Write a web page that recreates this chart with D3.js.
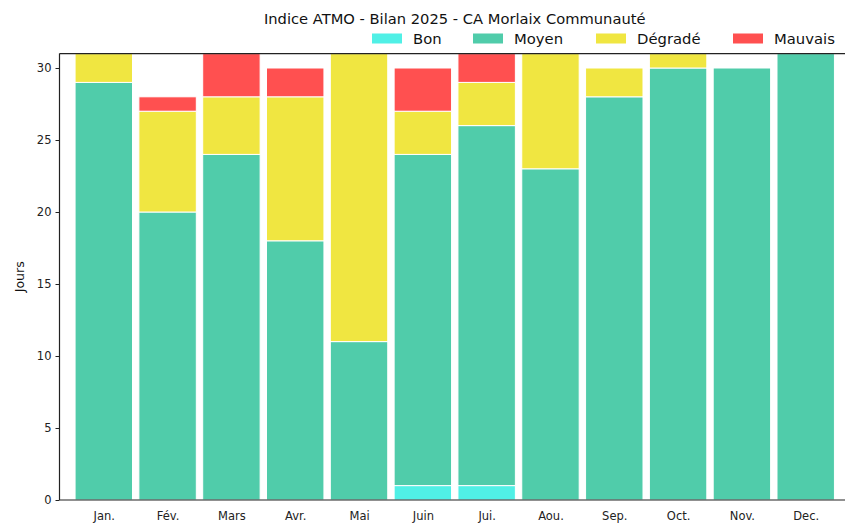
<!DOCTYPE html>
<html><head><meta charset="utf-8">
<script src="https://cdn.jsdelivr.net/npm/d3@7"></script>
<style>body{margin:0;background:#fff}svg{display:block}text{font-family:"DejaVu Sans",sans-serif}</style>
</head><body><svg id="c" width="845" height="523"></svg>
<script>
const months = ["Jan.","Fév.","Mars","Avr.","Mai","Juin","Jui.","Aou.","Sep.","Oct.","Nov.","Dec."];
const seriesNames = ["Bon","Moyen","Dégradé","Mauvais"];
const colors = ["#50F0E6","#50CCAA","#F0E641","#FF5050"];
const bon     = [0,0,0,0,0,1,1,0,0,0,0,0];
const moyen   = [29,20,24,18,11,23,25,23,28,30,30,31];
const degrade = [2,7,4,10,20,3,3,8,2,1,0,0];
const mauvais = [0,1,3,2,0,3,2,0,0,0,0,0];
const yTicks = [0,5,10,15,20,25,30];

const svg = d3.select("#c");
const L=59.5, R=850, T=53.6, B=500;
const x = d3.scaleLinear().domain([-0.694, 11.694]).range([L,R]);
const y = d3.scaleLinear().domain([0,31]).range([B,T]);

const rows = months.map((m,i)=>({i, Bon:bon[i], Moyen:moyen[i], "Dégradé":degrade[i], Mauvais:mauvais[i]}));
const stack = d3.stack().keys(seriesNames)(rows);
const w = 0.9;
stack.forEach((layer,k)=>{
  svg.append("g").selectAll("rect").data(layer.filter(d=>d[1]-d[0]>0)).join("rect")
    .attr("x", d=>x(d.data.i - w/2))
    .attr("width", d=>x(w)-x(0))
    .attr("y", d=>y(d[1]))
    .attr("height", d=>y(d[0])-y(d[1]))
    .attr("fill", colors[k])
    .attr("stroke","#fff").attr("stroke-width",1);
});

// axes
const xa = svg.append("g").attr("transform",`translate(0,${B})`)
  .call(d3.axisBottom(x).tickValues(d3.range(12)).tickFormat(i=>months[i]).tickSizeOuter(0).tickSize(0).tickPadding(12));
xa.select(".domain").remove();
xa.selectAll("text").attr("font-size",11.5).attr("fill","#222");
const ya = svg.append("g").attr("transform",`translate(${L},0)`)
  .call(d3.axisLeft(y).tickValues(yTicks).tickSizeOuter(0).tickSize(4).tickPadding(4));
ya.select(".domain").remove();
ya.selectAll("text").attr("font-size",11.5).attr("fill","#222");
ya.selectAll("line").attr("stroke","#222");

// spines
svg.append("line").attr("x1",L).attr("x2",L).attr("y1",T).attr("y2",B).attr("stroke","#222").attr("stroke-width",1.2);
svg.append("line").attr("x1",L).attr("x2",845).attr("y1",B).attr("y2",B).attr("stroke","#222").attr("stroke-width",1.2);
svg.append("line").attr("x1",L).attr("x2",845).attr("y1",T).attr("y2",T).attr("stroke","#222").attr("stroke-width",1.2);

// title
svg.append("text").attr("x",(L+R)/2).attr("y",24).attr("text-anchor","middle")
  .attr("font-size",14.7).attr("fill","#111").text("Indice ATMO - Bilan 2025 - CA Morlaix Communauté");

// y label
svg.append("text").attr("transform",`translate(24,${(T+B)/2}) rotate(-90)`).attr("text-anchor","middle")
  .attr("font-size",12.5).attr("fill","#111").text("Jours");

// legend
const patchX = [372,473,596,733];
const lg = svg.append("g");
seriesNames.forEach((s,k)=>{
  lg.append("rect").attr("x",patchX[k]).attr("y",33.5).attr("width",30).attr("height",10).attr("fill",colors[k]);
  lg.append("text").attr("x",patchX[k]+41).attr("y",43.5).attr("font-size",14.8).attr("fill","#111").text(s);
});
</script></body></html>
